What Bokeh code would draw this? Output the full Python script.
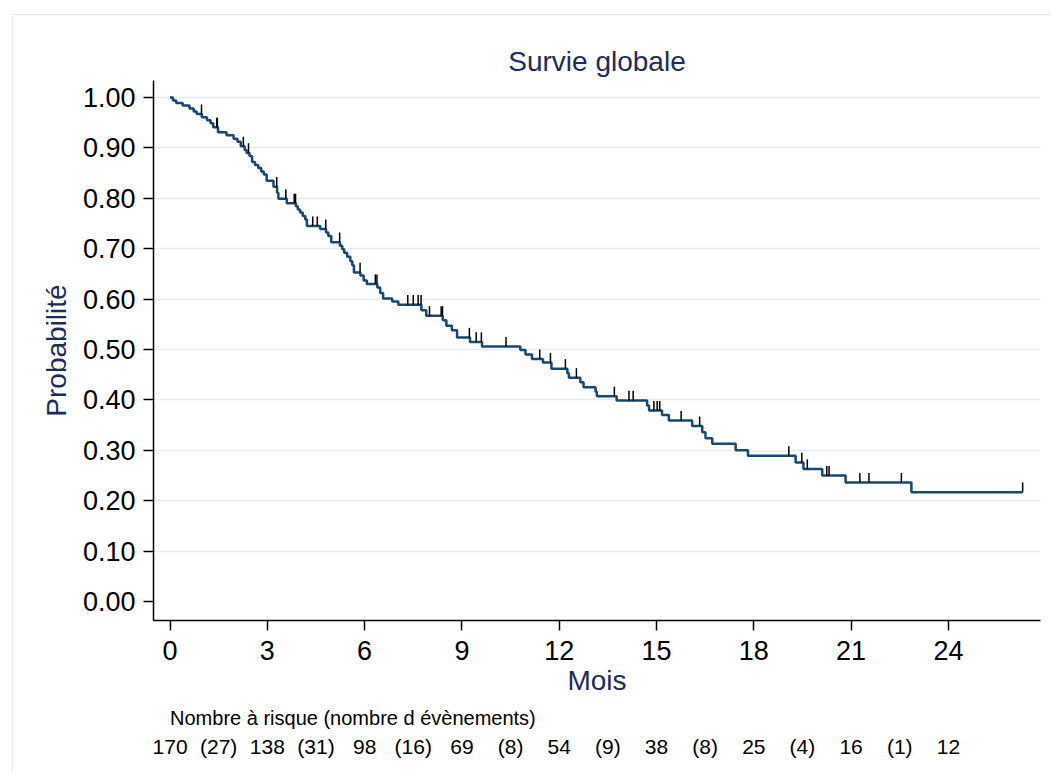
import numpy as np
from bokeh.plotting import figure
from bokeh.layouts import column
from bokeh.models import Range1d, FixedTicker, NumeralTickFormatter, ColumnDataSource
from bokeh.core.properties import value
from bokeh.embed import file_html
from bokeh.resources import INLINE

# Kaplan-Meier estimate: month at which each step occurs and survival after it
step_months = [0.00, 0.09, 0.19, 0.39, 0.60, 0.73, 0.82, 0.98, 1.14, 1.25, 1.33,
               1.48, 1.74, 1.96, 2.08, 2.18, 2.30, 2.36, 2.45, 2.53, 2.62, 2.72,
               2.81, 2.89, 2.98, 3.19, 3.30, 3.34, 3.60, 3.88, 3.94, 4.01, 4.09,
               4.17, 4.22, 4.63, 4.81, 4.88, 4.97, 5.24, 5.31, 5.37, 5.46, 5.56,
               5.62, 5.67, 5.87, 5.97, 6.07, 6.39, 6.48, 6.57, 6.85, 7.04, 7.75,
               7.90, 8.41, 8.52, 8.69, 8.85, 9.25, 9.62, 10.80, 10.96, 11.16,
               11.50, 11.76, 12.25, 12.30, 12.65, 12.75, 13.12, 13.16, 13.77,
               14.71, 14.77, 15.17, 15.38, 16.10, 16.41, 16.51, 16.72, 17.44,
               17.82, 19.29, 19.53, 20.11, 20.83, 22.86]
survival = [1.000, 0.994, 0.989, 0.984, 0.978, 0.972, 0.967, 0.961, 0.955, 0.949,
            0.941, 0.931, 0.925, 0.918, 0.912, 0.903, 0.896, 0.890, 0.884, 0.872,
            0.866, 0.860, 0.853, 0.847, 0.835, 0.823, 0.811, 0.799, 0.790, 0.784,
            0.778, 0.772, 0.765, 0.758, 0.745, 0.739, 0.732, 0.725, 0.713, 0.706,
            0.699, 0.692, 0.684, 0.675, 0.667, 0.653, 0.647, 0.637, 0.630, 0.623,
            0.612, 0.601, 0.595, 0.589, 0.578, 0.567, 0.558, 0.547, 0.538, 0.524,
            0.515, 0.506, 0.499, 0.490, 0.481, 0.474, 0.462, 0.453, 0.444, 0.435,
            0.425, 0.416, 0.407, 0.399, 0.389, 0.379, 0.370, 0.359, 0.348, 0.336,
            0.324, 0.313, 0.300, 0.289, 0.276, 0.263, 0.250, 0.236, 0.217]
last_followup = 26.29

# Censored observations (months)
censored_months = [0.97, 1.44, 1.46, 2.26, 2.42, 3.29, 3.57, 3.83, 3.87, 4.40,
                   4.54, 4.80, 5.23, 5.86, 6.33, 6.38, 7.33, 7.50, 7.65, 7.74,
                   8.00, 8.36, 8.40, 9.23, 9.44, 9.60, 10.36, 11.40, 11.73, 12.19,
                   12.53, 13.70, 14.15, 14.28, 14.92, 15.02, 15.10, 15.76, 16.33,
                   19.08, 19.48, 19.65, 20.25, 20.32, 21.27, 21.55, 22.55, 26.29]

# Number at risk table
risk_months = [0, 3, 6, 9, 12, 15, 18, 21, 24]
at_risk = [170, 138, 98, 69, 54, 38, 25, 16, 12]
events = [27, 31, 16, 8, 9, 8, 4, 1]

y_ticks = [0.0, 0.1, 0.2, 0.3, 0.4, 0.5, 0.6, 0.7, 0.8, 0.9, 1.0]
x_ticks = [0, 3, 6, 9, 12, 15, 18, 21, 24]

FONT = "Liberation Sans"
TEXT_NAVY = "#1d2b59"
CURVE = "#1a476f"
GRID = "#e4ecef"

x_range = Range1d(-0.51, 26.84)

p = figure(frame_width=887, frame_height=540, x_range=x_range,
           y_range=Range1d(-0.0377, 1.0337), output_backend="svg",
           toolbar_location=None, min_border_left=140, min_border_right=11,
           min_border_top=65, min_border_bottom=75)
p.outline_line_color = None
p.background_fill_color = "white"
p.border_fill_color = "white"

p.title.text = "Survie globale"
p.title.align = "center"
p.title.text_font = FONT
p.title.text_font_size = "28px"
p.title.text_font_style = "normal"
p.title.text_color = TEXT_NAVY
p.title.standoff = 8

p.xgrid.visible = False
p.ygrid.ticker = FixedTicker(ticks=y_ticks[1:])
p.ygrid.grid_line_color = GRID
p.ygrid.grid_line_width = 1.5

for ax in (p.xaxis[0], p.yaxis[0]):
    ax.axis_line_color = "black"
    ax.axis_line_width = 1.5
    ax.major_tick_line_color = "black"
    ax.major_tick_line_width = 1.5
    ax.major_tick_out = 10
    ax.major_tick_in = 0
    ax.minor_tick_line_color = None
    ax.major_label_text_font = FONT
    ax.major_label_text_font_size = "27px"
    ax.major_label_text_color = "black"
    ax.axis_label_text_font = FONT
    ax.axis_label_text_font_size = "28px"
    ax.axis_label_text_font_style = "normal"
    ax.axis_label_text_color = TEXT_NAVY

p.yaxis.ticker = FixedTicker(ticks=y_ticks)
p.yaxis.formatter = NumeralTickFormatter(format="0.00")
p.yaxis.axis_label = "Probabilité"
p.yaxis.major_label_standoff = 8
p.yaxis.axis_label_standoff = 8

p.xaxis.ticker = FixedTicker(ticks=x_ticks)
p.xaxis.axis_label = "Mois"
p.xaxis.major_label_standoff = 10
p.xaxis.axis_label_standoff = 2

# survival curve as a right-continuous step function
curve_x = step_months + [last_followup]
curve_y = survival + [survival[-1]]
p.step(curve_x, curve_y, mode="after", line_color=CURVE, line_width=2.5)

# censoring ticks sit on the curve
idx = np.searchsorted(np.array(step_months), np.array(censored_months), side="right") - 1
cens_y = np.array(survival)[idx]
p.segment(x0=censored_months, y0=cens_y, x1=censored_months, y1=cens_y + 0.019,
          line_color="black", line_width=1.5)

# number-at-risk table beneath the x axis
t = figure(frame_width=887, frame_height=72, x_range=x_range, y_range=Range1d(0, 72),
           output_backend="svg", toolbar_location=None, min_border_left=140,
           min_border_right=11, min_border_top=0, min_border_bottom=0)
t.axis.visible = False
t.grid.visible = False
t.outline_line_color = None

t.text(x=[0], y=[53], text=["Nombre à risque (nombre d évènements)"],
       text_font=value(FONT), text_font_size="20px", text_color="black",
       text_align="left", text_baseline="alphabetic")

risk_src = ColumnDataSource(dict(x=risk_months, y=[24] * len(risk_months),
                                 txt=[str(n) for n in at_risk]))
t.text(x="x", y="y", text="txt", source=risk_src, text_font=value(FONT),
       text_font_size="21px", text_color="black", text_align="center",
       text_baseline="alphabetic")

ev_src = ColumnDataSource(dict(x=[m + 1.5 for m in risk_months[:-1]],
                               y=[24] * len(events),
                               txt=["(%d)" % e for e in events]))
t.text(x="x", y="y", text="txt", source=ev_src, text_font=value(FONT),
       text_font_size="21px", text_color="black", text_align="center",
       text_baseline="alphabetic")

layout = column(p, t, margin=(14, 0, 0, 12),
                styles={"border-top": "1px solid #e3e9ec",
                        "border-left": "1px solid #e3e9ec"})

open("out.html", "w").write(file_html(layout, INLINE))
